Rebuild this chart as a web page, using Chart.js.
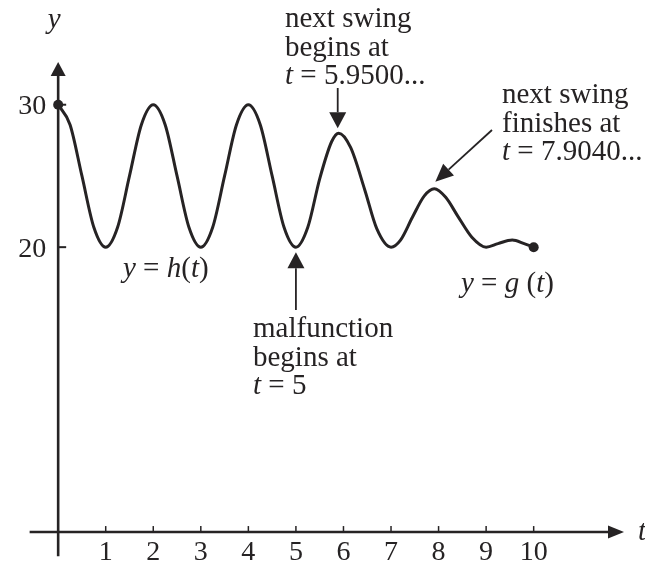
<!DOCTYPE html>
<html>
<head>
<meta charset="utf-8">
<script src="https://cdn.jsdelivr.net/npm/chart.js@4.4.1/dist/chart.umd.min.js"></script>
<style>
  html, body { margin:0; padding:0; background:#fff; }
  #wrap { width:645px; height:568px; position:relative; }
</style>
</head>
<body>
<div id="wrap"><canvas id="swing"></canvas></div>
<script>
// height y of the swing against time t
// h(t): normal swing, 0 <= t <= 5
const hTimes   = [0, 0.25, 0.5, 0.75, 1, 1.25, 1.5, 1.75, 2, 2.25, 2.5, 2.75, 3, 3.25, 3.5, 3.75, 4, 4.25, 4.5, 4.75, 5];
const hHeights = [30, 28.6, 25, 21.4, 20, 21.4, 25, 28.6, 30, 28.6, 25, 21.4, 20, 21.4, 25, 28.6, 30, 28.6, 25, 21.4, 20];
// g(t): after the malfunction, 5 < t <= 10
const gTimes   = [5.25, 5.5, 5.75, 5.9, 6.15, 6.45, 6.7, 7.0, 7.2, 7.45, 7.7, 7.91, 8.15, 8.4, 8.7, 9.0, 9.25, 9.55, 9.8, 10];
const gHeights = [21.4, 24.8, 27.4, 28.0, 27.0, 24.0, 21.3, 20.0, 20.5, 22.1, 23.6, 24.1, 23.5, 22.2, 20.7, 20.0, 20.25, 20.5, 20.25, 20.0];
// end points marked with a dot
const endTimes   = [0, 10];
const endHeights = [30, 20];

const xTicks = [1, 2, 3, 4, 5, 6, 7, 8, 9, 10];
const yTicks = [20, 30];

// key points the arrows point at
const swingStart  = { t: 5.9, y: 28.0 };
const swingFinish = { t: 7.91, y: 24.1 };
const malfunction = { t: 5, y: 20 };

const INK = '#262324';
const FONT = '"Liberation Serif", "Times New Roman", serif';
const SIZE = 29;

const curve = hTimes.map((t, i) => ({ x: t, y: hHeights[i] }))
  .concat(gTimes.map((t, i) => ({ x: t, y: gHeights[i] })));
const ends = endTimes.map((t, i) => ({ x: t, y: endHeights[i] }));

// text line = list of pieces, {i: '...'} is set in italics
const notes = [
  { x: 285, y: 27, lines: [['next swing'], ['begins at'], [{ i: 't' }, ' = 5.9500...']] },
  { x: 502, y: 103, lines: [['next swing'], ['finishes at'], [{ i: 't' }, ' = 7.9040...']] },
  { x: 253, y: 337, lines: [['malfunction'], ['begins at'], [{ i: 't' }, ' = 5']] },
  { x: 123, y: 277, lines: [[{ i: 'y' }, ' = ', { i: 'h' }, '(', { i: 't' }, ')']] },
  { x: 461, y: 292, lines: [[{ i: 'y' }, ' = ', { i: 'g' }, ' (', { i: 't' }, ')']] }
];
const LINE_GAP = 28.5;

function setFont(ctx, italic, size) {
  ctx.font = (italic ? 'italic ' : '') + (size || SIZE) + 'px ' + FONT;
}

function lineWidth(ctx, pieces, size) {
  let w = 0;
  pieces.forEach(p => {
    const it = typeof p !== 'string';
    setFont(ctx, it, size);
    w += ctx.measureText(it ? p.i : p).width;
  });
  return w;
}

function drawPieces(ctx, x, y, pieces, align, size) {
  if (align === 'center') x -= lineWidth(ctx, pieces, size) / 2;
  if (align === 'right') x -= lineWidth(ctx, pieces, size);
  pieces.forEach(p => {
    const it = typeof p !== 'string';
    const s = it ? p.i : p;
    setFont(ctx, it, size);
    ctx.fillText(s, x, y);
    x += ctx.measureText(s).width;
  });
}

function arrow(ctx, x1, y1, x2, y2, len, half, width) {
  const a = Math.atan2(y2 - y1, x2 - x1);
  const bx = x2 - len * Math.cos(a), by = y2 - len * Math.sin(a);
  ctx.lineWidth = width;
  ctx.beginPath();
  ctx.moveTo(x1, y1);
  ctx.lineTo(bx, by);
  ctx.stroke();
  ctx.beginPath();
  ctx.moveTo(x2, y2);
  ctx.lineTo(bx + half * Math.sin(a), by - half * Math.cos(a));
  ctx.lineTo(bx - half * Math.sin(a), by + half * Math.cos(a));
  ctx.closePath();
  ctx.fill();
}

const axesPlugin = {
  id: 'axes',
  beforeDatasetsDraw(chart) {
    const { ctx, scales: { x, y } } = chart;
    const x0 = x.getPixelForValue(0), y0 = y.getPixelForValue(0);
    ctx.save();
    ctx.strokeStyle = INK;
    ctx.fillStyle = INK;
    ctx.lineCap = 'butt';
    // t axis
    arrow(ctx, x.getPixelForValue(-0.6), y0, x.getPixelForValue(11.9), y0, 16, 6.5, 2.6);
    // y axis
    arrow(ctx, x0, y.getPixelForValue(-1.7), x0, y.getPixelForValue(33.0), 14, 7.5, 2.6);

    ctx.lineWidth = 1.5;
    xTicks.forEach(v => {
      const px = x.getPixelForValue(v);
      ctx.beginPath();
      ctx.moveTo(px, y0);
      ctx.lineTo(px, y0 - 6);
      ctx.stroke();
    });
    ctx.lineWidth = 2;
    yTicks.forEach(v => {
      const py = y.getPixelForValue(v);
      ctx.beginPath();
      ctx.moveTo(x0, py);
      ctx.lineTo(x0 + 8, py);
      ctx.stroke();
    });

    ctx.textBaseline = 'alphabetic';
    xTicks.forEach(v => {
      drawPieces(ctx, x.getPixelForValue(v), y0 + 28, [String(v)], 'center', 28);
    });
    yTicks.forEach(v => {
      drawPieces(ctx, x0 - 12, y.getPixelForValue(v) + 9.5, [String(v)], 'right', 28);
    });
    drawPieces(ctx, x0 - 4, 28, [{ i: 'y' }], 'center');
    drawPieces(ctx, 638, y0 + 8, [{ i: 't' }], 'left');
    ctx.restore();
  },
  afterDraw(chart) {
    const { ctx, scales: { x, y } } = chart;
    ctx.save();
    ctx.fillStyle = INK;
    ctx.strokeStyle = INK;
    ctx.textBaseline = 'alphabetic';
    notes.forEach(n => {
      n.lines.forEach((ln, k) => drawPieces(ctx, n.x, n.y + k * LINE_GAP, ln, 'left'));
    });

    const sx = x.getPixelForValue(swingStart.t) - 1, sy = y.getPixelForValue(swingStart.y);
    arrow(ctx, sx, 88, sx, sy - 5, 16, 8.5, 1.8);

    const fx = x.getPixelForValue(swingFinish.t), fy = y.getPixelForValue(swingFinish.y);
    arrow(ctx, 492, 130, fx + 1, fy - 7, 18, 8, 1.8);

    const mx = x.getPixelForValue(malfunction.t), my = y.getPixelForValue(malfunction.y);
    arrow(ctx, mx, 310, mx, my + 5, 16, 8.5, 1.8);
    ctx.restore();
  }
};

new Chart(document.getElementById('swing'), {
  type: 'line',
  data: {
    datasets: [
      {
        data: curve,
        borderColor: INK,
        borderWidth: 3,
        pointRadius: 0,
        cubicInterpolationMode: 'monotone',
        fill: false
      },
      {
        data: ends,
        showLine: false,
        pointRadius: 5,
        pointBackgroundColor: INK,
        pointBorderColor: INK,
        pointBorderWidth: 0
      }
    ]
  },
  options: {
    responsive: true,
    maintainAspectRatio: false,
    animation: false,
    layout: { padding: 0 },
    plugins: { legend: { display: false }, tooltip: { enabled: false } },
    scales: {
      x: { type: 'linear', display: false, min: -1.118, max: 12.236 },
      y: { type: 'linear', display: false, min: -2.172, max: 37.0 }
    }
  },
  plugins: [axesPlugin]
});
</script>
</body>
</html>
